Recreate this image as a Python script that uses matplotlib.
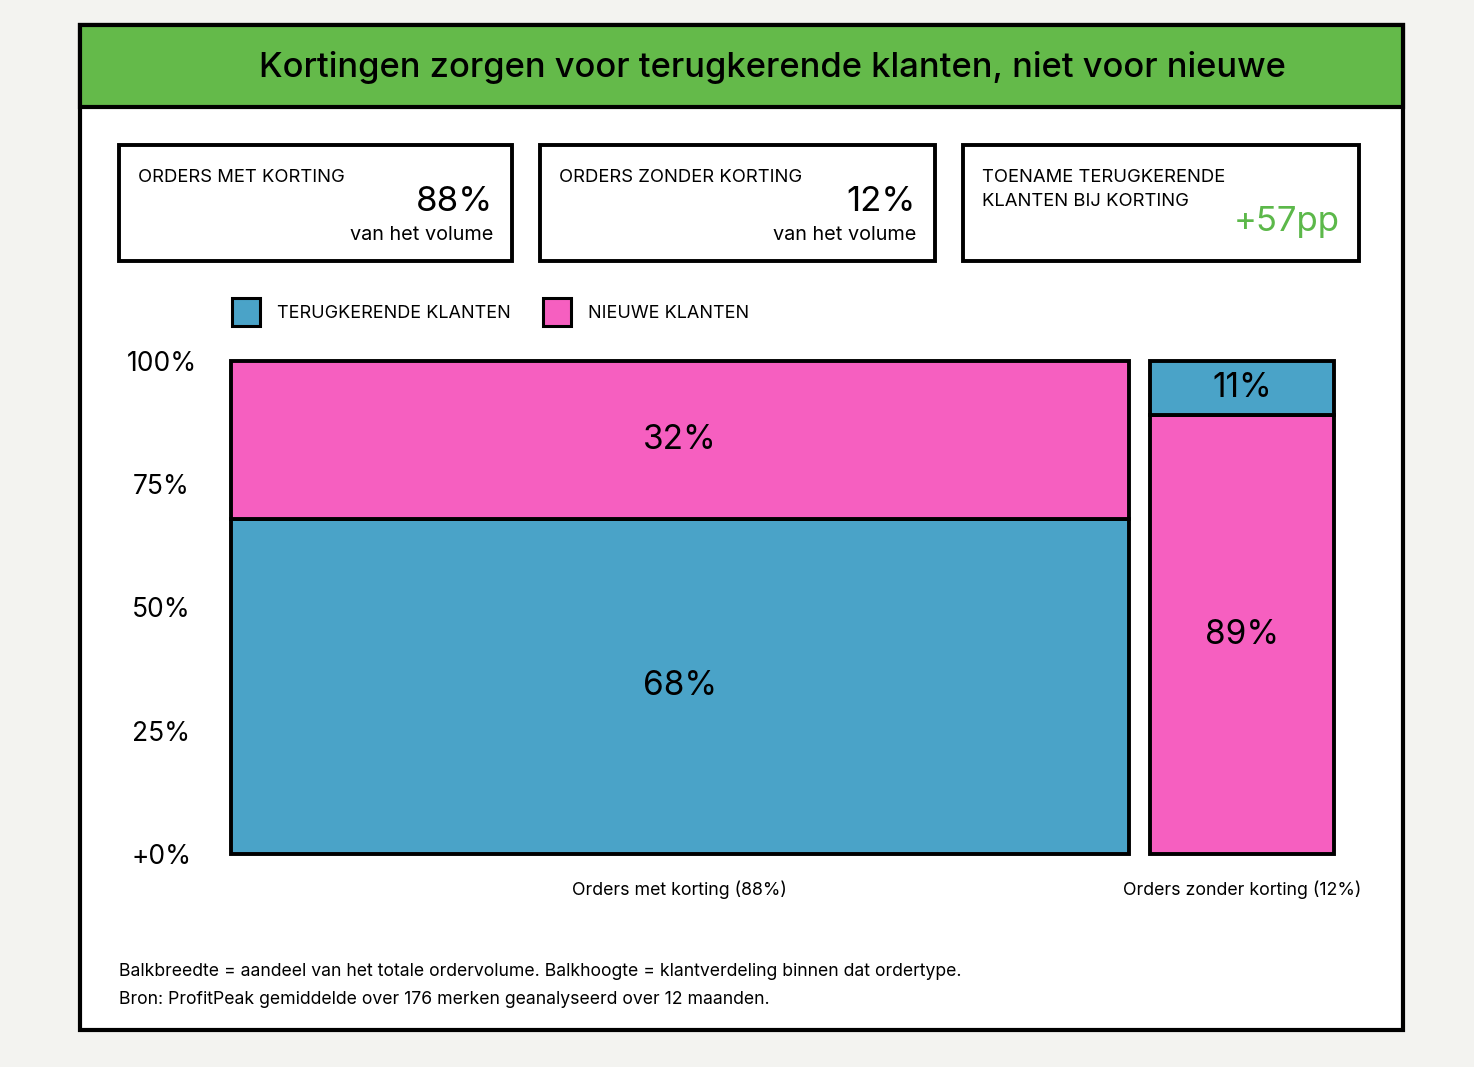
import numpy as np
import matplotlib.pyplot as plt
from matplotlib.patches import Rectangle

plt.rcParams['font.family'] = ['Inter', 'DejaVu Sans']

# ----- Data -----
order_types = ["Orders met korting (88%)", "Orders zonder korting (12%)"]
volume_share = [88, 12]           # share of order volume (label values)
bar_width = [83, 17]              # drawn bar widths
returning = [68, 11]              # terugkerende klanten, %
new = [32, 89]                    # nieuwe klanten, %
returning_on_top = [False, True]  # stacking order differs per bar in the picture

kpi_labels = ["ORDERS MET KORTING", "ORDERS ZONDER KORTING", "TOENAME TERUGKERENDE\nKLANTEN BIJ KORTING"]
kpi_values = ["88%", "12%", "+57pp"]
kpi_subs = ["van het volume", "van het volume", ""]

y_ticks = [0, 25, 50, 75, 100]
y_labels = ["+0%", "25%", "50%", "75%", "100%"]

title = "Kortingen zorgen voor terugkerende klanten, niet voor nieuwe"
footer = ["Balkbreedte = aandeel van het totale ordervolume. Balkhoogte = klantverdeling binnen dat ordertype.",
          "Bron: ProfitPeak gemiddelde over 176 merken geanalyseerd over 12 maanden."]

BLUE = "#4aa3c8"
PINK = "#f65fc0"
GREEN = "#64ba4a"
GREEN_TXT = "#5cb84a"
BG = "#f3f3f0"

W, H = 1474, 1067
fig = plt.figure(figsize=(W / 100, H / 100), dpi=100)
fig.patch.set_facecolor(BG)


def fx(x):
    return x / W


def fy(y):
    return 1 - y / H


def box(x0, y0, x1, y1, fc, lw):
    fig.patches.append(Rectangle((fx(x0), fy(y1)), fx(x1) - fx(x0), fy(y0) - fy(y1),
                                 transform=fig.transFigure, facecolor=fc,
                                 edgecolor="black", linewidth=lw, zorder=-1))


# ----- Frame + title band -----
box(80, 25, 1403, 1030, "white", 3)
box(80, 25, 1403, 107, GREEN, 3)
fig.text(fx(772), fy(67), title, ha="center", va="center", fontsize=24.8, fontweight="medium")

# ----- KPI cards -----
cards = [(119, 512), (540, 935), (963, 1359)]
for i, (x0, x1) in enumerate(cards):
    box(x0, 145, x1, 261, "white", 2.8)
    fig.text(fx(x0 + 19), fy(169), kpi_labels[i], ha="left", va="top", fontsize=13.3,
             linespacing=1.55)
    if kpi_subs[i]:
        fig.text(fx(x1 - 19), fy(202), kpi_values[i], ha="right", va="center", fontsize=25)
        fig.text(fx(x1 - 19), fy(235), kpi_subs[i], ha="right", va="center", fontsize=14.3)
    else:
        fig.text(fx(x1 - 19), fy(222), kpi_values[i], ha="right", va="center", fontsize=25,
                 color=GREEN_TXT)

# ----- Legend -----
for sx, col, lab in [(232, BLUE, "TERUGKERENDE KLANTEN"), (543, PINK, "NIEUWE KLANTEN")]:
    fig.patches.append(Rectangle((fx(sx), fy(326)), fx(28), 28 / H, transform=fig.transFigure,
                                 facecolor=col, edgecolor="black", linewidth=2.2))
    fig.text(fx(sx + 45), fy(313), lab, ha="left", va="center", fontsize=13)

# ----- Mekko chart -----
ax = fig.add_axes([fx(231), fy(854), fx(1334) - fx(231), fy(361) - fy(854)])
ax.set_zorder(2)
ax.set_facecolor("none")
gap = 2
lefts = np.concatenate([[0], np.cumsum(np.array(bar_width) + gap)[:-1]])
for i in range(len(order_types)):
    if returning_on_top[i]:
        parts = [(new[i], PINK), (returning[i], BLUE)]
    else:
        parts = [(returning[i], BLUE), (new[i], PINK)]
    bottom = 0
    for val, col in parts:
        ax.bar(lefts[i], val, width=bar_width[i], bottom=bottom, align="edge",
               color=col, edgecolor="black", linewidth=2.8, clip_on=False)
        ax.text(lefts[i] + bar_width[i] / 2, bottom + val / 2, f"{val}%",
                ha="center", va="center", fontsize=24)
        bottom += val
    ax.text(lefts[i] + bar_width[i] / 2, -7.3, order_types[i], ha="center", va="center",
            fontsize=12.8, clip_on=False)

ax.set_xlim(0, lefts[-1] + bar_width[-1])
ax.set_ylim(0, 100)
ax.set_xticks([])
ax.set_yticks(y_ticks, y_labels, fontsize=19)
ax.tick_params(axis="y", length=0, pad=50)
for t in ax.get_yticklabels():
    t.set_horizontalalignment("center")
for s in ax.spines.values():
    s.set_visible(False)

# ----- Footer -----
fig.text(fx(119), fy(972), footer[0], ha="left", va="center", fontsize=12.7)
fig.text(fx(119), fy(1000), footer[1], ha="left", va="center", fontsize=12.7)

fig.savefig("out.png", dpi=100, facecolor=BG)
